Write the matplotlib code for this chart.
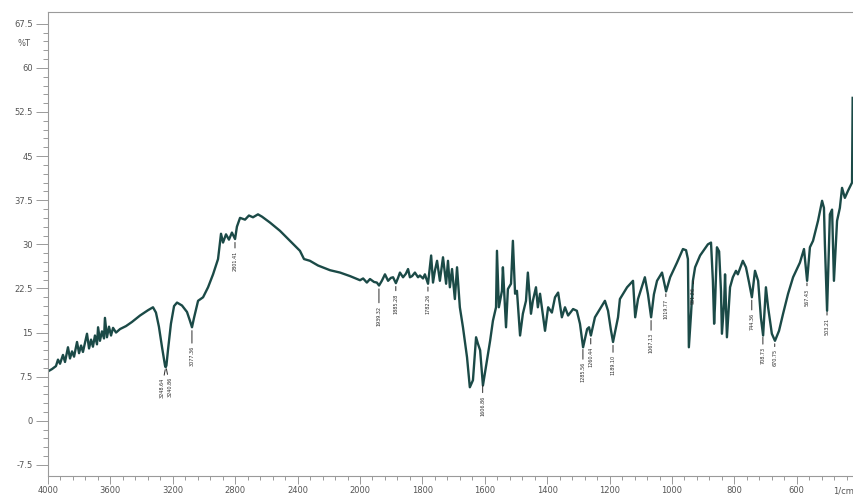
import numpy as np
import matplotlib.pyplot as plt

# Espectro FTIR: numero de onda (1/cm) y transmitancia (%T)
numero_onda = [4000, 3974, 3949, 3936, 3923, 3904, 3891, 3872, 3859, 3846, 3833, 3814, 3801, 3788, 3776,
               3750, 3737, 3724, 3712, 3699, 3686, 3679, 3667, 3654, 3641, 3635, 3622, 3609, 3596, 3583,
               3564, 3538, 3500, 3462, 3410, 3359, 3327, 3308, 3289, 3269, 3250, 3246, 3241, 3231, 3212,
               3192, 3173, 3141, 3109, 3090, 3077, 3064, 3038, 3006, 2974, 2942, 2910, 2891, 2878, 2859,
               2840, 2821, 2801, 2789, 2769, 2737, 2712, 2686, 2654, 2628, 2577, 2513, 2449, 2385, 2359,
               2321, 2269, 2192, 2128, 2064, 2000,
               1990, 1978, 1968, 1955, 1946, 1939, 1930, 1920, 1910, 1901, 1894, 1885, 1878, 1872, 1862,
               1853, 1846, 1840, 1833, 1824, 1814, 1808, 1798, 1792, 1782, 1772, 1766, 1760, 1753, 1744,
               1734, 1724, 1718, 1712, 1705, 1696, 1689, 1680, 1670, 1657, 1648, 1638, 1628, 1622, 1615,
               1606, 1593, 1583, 1574, 1564, 1561, 1555, 1545, 1542, 1532, 1526, 1516, 1510, 1503, 1497,
               1487, 1478, 1468, 1462, 1452, 1446, 1436, 1430, 1423, 1407, 1397, 1385, 1375, 1365, 1353,
               1343, 1333, 1317, 1305, 1295, 1285, 1272, 1266, 1260, 1247, 1231, 1215, 1205, 1196, 1189,
               1180, 1173, 1167, 1144, 1125, 1118, 1109, 1087, 1077, 1067, 1058, 1048, 1032, 1019, 1006,
               984, 965, 955, 949, 946, 939, 933, 926, 910, 885, 875, 869, 865, 862, 856,
               849, 843, 840, 833, 830, 824, 814, 805, 795, 789, 773, 763, 753, 744, 734,
               724, 715, 708, 699, 692, 680, 670, 657, 644, 628, 612, 590, 577, 567, 558,
               548, 532, 519, 513, 510, 503, 497, 494, 487, 481, 471, 462, 455, 446, 436,
               426, 423, 421]
transmitancia = [8.4, 8.8, 9.3, 10.4, 9.7, 11.2, 10.0, 12.5, 10.6, 11.8, 10.9, 13.4, 11.5, 12.8, 11.7,
                 14.8, 12.3, 13.8, 12.6, 14.5, 13.0, 15.9, 13.6, 15.2, 14.0, 17.5, 14.2, 16.0, 14.5, 15.8,
                 15.0, 15.6, 16.1, 16.8, 17.9, 18.8, 19.3, 18.4, 16.0, 12.5, 9.4, 9.1, 9.4, 12.0, 16.5,
                 19.5, 20.1, 19.6, 18.5, 17.0, 15.9, 17.5, 20.4, 21.0, 22.7, 24.9, 27.5, 31.8, 30.3, 31.7,
                 30.8, 32.0, 30.9, 33.0, 34.5, 34.2, 34.9, 34.6, 35.1, 34.7, 33.7, 32.3, 30.6, 28.9, 27.5,
                 27.2, 26.4, 25.6, 25.2, 24.6, 23.9,
                 24.2, 23.5, 24.1, 23.6, 23.5, 23.0, 23.8, 24.9, 23.8, 24.3, 24.4, 23.4, 24.3, 25.2, 24.4,
                 25.0, 25.8, 24.4, 24.6, 25.2, 24.4, 24.7, 24.2, 24.9, 23.3, 28.1, 23.5, 25.5, 27.2, 23.8,
                 27.8, 23.3, 27.2, 22.7, 25.8, 20.7, 26.1, 19.3, 15.9, 10.8, 5.7, 6.9, 14.2, 13.1, 12.0,
                 6.0, 10.3, 13.6, 17.0, 19.3, 28.9, 19.3, 22.1, 26.1, 15.9, 22.4, 23.3, 30.6, 21.6, 22.1,
                 14.5, 18.2, 20.4, 25.2, 18.2, 20.4, 22.7, 19.3, 21.6, 15.3, 19.3, 18.4, 21.0, 21.8, 17.6,
                 19.3, 17.9, 19.0, 18.7, 16.5, 12.5, 15.6, 15.9, 14.5, 17.6, 19.0, 20.4, 18.7, 15.5, 13.4,
                 15.8, 17.6, 20.7, 22.7, 23.8, 17.6, 20.7, 24.4, 21.5, 17.6, 21.5, 23.8, 25.2, 22.0, 24.4,
                 26.9, 29.2, 29.0, 27.5, 12.5, 18.2, 23.8, 26.1, 28.1, 30.0, 30.3, 23.8, 16.5, 20.0, 29.5,
                 28.8, 22.0, 14.8, 20.0, 24.9, 14.2, 22.7, 24.4, 25.5, 24.9, 27.2, 26.1, 23.5, 21.0, 25.5,
                 23.8, 17.5, 14.5, 22.7, 19.3, 14.8, 13.6, 15.3, 18.2, 21.6, 24.4, 26.9, 29.2, 23.8, 29.5,
                 30.6, 34.0, 37.4, 36.2, 30.0, 18.7, 30.0, 35.1, 35.9, 23.8, 34.0, 36.2, 39.6, 37.9, 39.1,
                 40.2, 40.5, 54.9]

# Picos marcados y largo de la linea de cada etiqueta (pt)
picos = [3077.36, 2801.41, 1939.32, 1885.28, 1782.26, 1606.86, 1285.56, 1260.44, 1189.10,
         1067.13, 1019.77, 931.26, 744.36, 708.73, 670.75, 567.43, 503.21]
caidas = [11, 6, 12, 5, 5, 7, 9, 6, 7, 9, 4, 4, 9, 7, 4, 4, 4]
picos_dobles = [3248.64, 3240.86]

# Eje x: 400 1/cm por division arriba de 2000, 200 por division abajo
def ida(x):
    x = np.asarray(x, dtype=float)
    return np.where(x >= 2000, (x - 4000) / 400, (x - 2000) / 200 - 5)

def vuelta(u):
    u = np.asarray(u, dtype=float)
    return np.where(u >= -5, 4000 + 400 * u, 2000 + 200 * (u + 5))

fig = plt.figure(figsize=(8.54, 4.95), dpi=100)
ax = fig.add_axes([48 / 854, 19.5 / 495, 806 / 854, 463.5 / 495])
ax.set_xscale('function', functions=(ida, vuelta))

color_linea = '#1b4a47'
ax.plot(numero_onda, transmitancia, color=color_linea, lw=1.7)
ax.set_xlim(4000, 416.7)
ax.set_ylim(-9.3, 69.5)

# Etiquetas de los picos
x_asc = np.array(numero_onda[::-1], dtype=float)
t_asc = np.array(transmitancia[::-1], dtype=float)
estilo = dict(rotation=90, ha='center', va='top', fontsize=3.5, color='#2a2a2a')
flecha = dict(arrowstyle='-', color='#2a2a2a', lw=0.7, shrinkA=0, shrinkB=0)
for p, c in zip(picos, caidas):
    t = np.interp(p, x_asc, t_asc)
    ax.annotate(f"{p:.2f}", xy=(p, t - 0.6), xytext=(0, -c), textcoords='offset points',
                arrowprops=flecha, **estilo)
for p, dx in zip(picos_dobles, [-2.5, 2.5]):
    t = np.interp(p, x_asc, t_asc)
    ax.annotate(f"{p:.2f}", xy=(p, t - 0.6), xytext=(dx, -6), textcoords='offset points',
                arrowprops=flecha, **estilo)

# Ticks
ax.set_xticks([4000, 3600, 3200, 2800, 2400, 2000, 1800, 1600, 1400, 1200, 1000, 800, 600])
ax.set_xticklabels(['4000', '3600', '3200', '2800', '2400', '2000', '1800', '1600',
                    '1400', '1200', '1000', '800', '600'])
ax.set_xticks(list(np.arange(4000, 2000, -80)) + list(np.arange(2000, 416, -40)), minor=True)
yt = np.arange(-7.5, 68, 7.5)
ax.set_yticks(yt)
ax.set_yticklabels([f"{v:g}" for v in yt])
ax.set_yticks(np.arange(-7.5, 69, 1.5), minor=True)

for lado in ['top', 'left', 'bottom']:
    ax.spines[lado].set_color('#9a9a9a')
    ax.spines[lado].set_linewidth(0.8)
ax.spines['right'].set_visible(False)
ax.tick_params(which='both', colors='#9a9a9a', labelcolor='#555555', labelsize=6, width=0.7)
ax.tick_params(axis='y', which='major', length=9, pad=2)
ax.tick_params(axis='y', which='minor', length=3.5)
ax.tick_params(axis='x', which='major', length=6, pad=1.5)
ax.tick_params(axis='x', which='minor', length=3)

fig.text(24 / 854, 1 - 44 / 495, '%T', ha='center', va='center', fontsize=6, color='#555555')
fig.text(833 / 854, 1 - 486 / 495, '1/cm', ha='left', va='top', fontsize=6, color='#555555')

fig.savefig('out.png', dpi=100)
